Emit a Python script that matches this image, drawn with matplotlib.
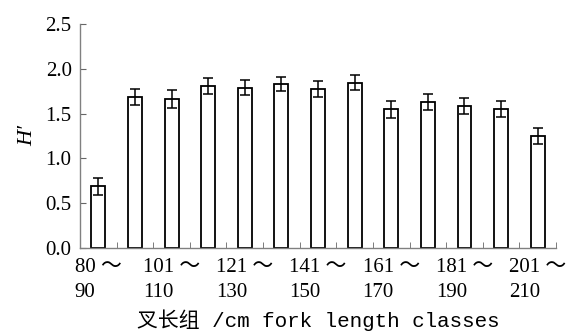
import matplotlib
matplotlib.use("Agg")
import matplotlib.pyplot as plt
import numpy as np

# fork length classes and diversity index H'
classes = ["80～90", "91～100", "101～110", "111～120", "121～130", "131～140",
           "141～150", "151～160", "161～170", "171～180", "181～190", "191～200", "201～210"]
h_values = [0.69, 1.68, 1.66, 1.81, 1.79, 1.83, 1.77, 1.845, 1.55, 1.63, 1.585, 1.55, 1.25]
h_errors = [0.095, 0.09, 0.10, 0.09, 0.08, 0.08, 0.09, 0.08, 0.095, 0.09, 0.09, 0.085, 0.09]
tick_labels = ["80 ～\n90", "101 ～\n110", "121 ～\n130", "141 ～\n150", "161 ～\n170", "181 ～\n190", "201 ～\n210"]
y_ticks = [0.0, 0.5, 1.0, 1.5, 2.0, 2.5]

num_font = ["Liberation Serif", "Noto Sans CJK SC"]

fig = plt.figure(figsize=(5.81, 3.36), dpi=100)
ax = fig.add_axes([0.1377, 0.262, 0.8193, 0.667])

x = np.arange(len(classes))
ax.bar(x, h_values, width=0.38, color="white", edgecolor="black", linewidth=1.3,
       yerr=h_errors, capsize=3.5, error_kw=dict(elinewidth=1.1, capthick=1.1, ecolor="black"))

ax.set_xlim(-0.5, len(classes) - 0.5)
ax.set_ylim(0, 2.5)
ax.set_yticks(y_ticks)
ax.set_yticklabels(["%.1f" % v for v in y_ticks], family=num_font, fontsize=15)

ax.set_xticks(x[::2])
ax.set_xticklabels(tick_labels, family=num_font, fontsize=15, linespacing=1.45,
                   multialignment="left")
ax.set_xticks(np.arange(len(classes)) + 0.5, minor=True)
ax.tick_params(axis="x", which="major", length=0, pad=7)
ax.tick_params(axis="x", which="minor", direction="in", length=4, color="#666666")
ax.tick_params(axis="y", direction="in", length=4, color="#666666", pad=6)

for s in ["top", "right"]:
    ax.spines[s].set_visible(False)
for s in ["left", "bottom"]:
    ax.spines[s].set_color("#808080")
    ax.spines[s].set_linewidth(1.0)

ax.set_ylabel("H′", family="Liberation Serif", style="italic", fontsize=16, labelpad=6)
ax.set_xlabel("叉长组 /cm fork length classes", family=["Liberation Mono", "Noto Sans CJK SC"],
              fontsize=15, labelpad=5)

fig.savefig("out.png", dpi=100)
